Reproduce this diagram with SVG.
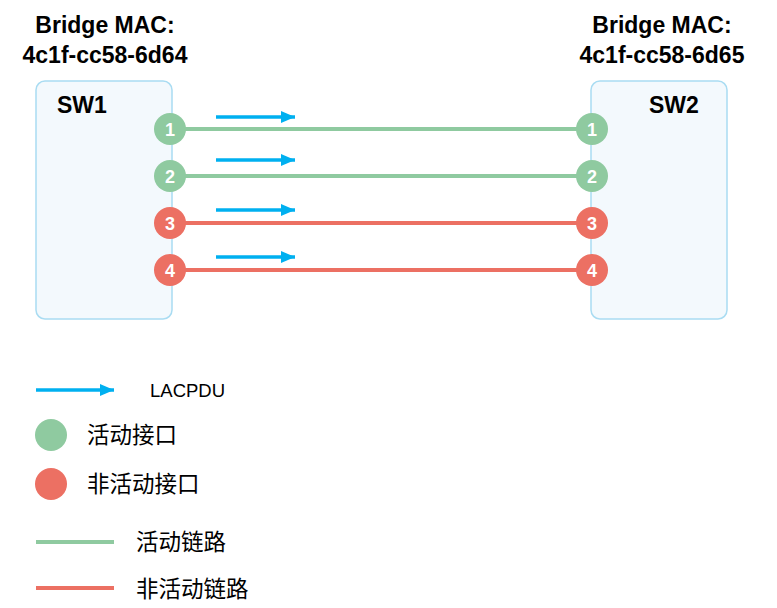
<svg xmlns="http://www.w3.org/2000/svg" width="777" height="608" viewBox="0 0 777 608">
<defs>
<style>
.title{font-family:"Liberation Sans",Arial,sans-serif;font-weight:bold;font-size:23px;fill:#000;text-anchor:middle}
.sw{font-family:"Liberation Sans",Arial,sans-serif;font-weight:bold;font-size:23px;fill:#000}
.box{fill:#f3f9fd;stroke:#a9dcf2;stroke-width:1.5}
.pg{fill:#8fcaa0}
.pr{fill:#ec7063}
.num{font-family:"Liberation Sans",Arial,sans-serif;font-weight:bold;font-size:18px;fill:#fff;text-anchor:middle}
.lg{stroke:#8fcaa0;stroke-width:4;fill:none}
.lr{stroke:#ec7063;stroke-width:4;fill:none}
.arr{stroke:#00b0f0;stroke-width:3.5;fill:none}
.leg{font-family:"Liberation Sans","Noto Sans CJK SC",sans-serif;font-size:22.5px;fill:#000}
.legs{font-family:"Liberation Sans",Arial,sans-serif;font-size:18.5px;fill:#000}
</style>
<marker id="ah" viewBox="0 0 14 12" refX="14" refY="6" markerWidth="14" markerHeight="12" markerUnits="userSpaceOnUse" orient="auto">
<path d="M0,0 L14,6 L0,12 Z" fill="#00b0f0"/>
</marker>
</defs>
<rect width="777" height="608" fill="#fff"/>
<g id="sw1">
<text class="title" x="105" y="33">Bridge MAC:</text>
<text class="title" x="105" y="63">4c1f-cc58-6d64</text>
<rect class="box" x="36" y="81" width="136" height="238" rx="9"/>
<text class="sw" x="57" y="113">SW1</text>
</g>
<g id="sw2">
<text class="title" x="662" y="33">Bridge MAC:</text>
<text class="title" x="662" y="63">4c1f-cc58-6d65</text>
<rect class="box" x="591" y="81" width="136" height="238" rx="9"/>
<text class="sw" x="649" y="113">SW2</text>
</g>
<g id="connectors">
<line class="lg" x1="170" y1="129" x2="592" y2="129"/>
<line class="lg" x1="170" y1="176" x2="592" y2="176"/>
<line class="lr" x1="170" y1="223" x2="592" y2="223"/>
<line class="lr" x1="170" y1="270" x2="592" y2="270"/>
<line class="arr" x1="216" y1="117" x2="295" y2="117" marker-end="url(#ah)"/>
<line class="arr" x1="216" y1="160" x2="295" y2="160" marker-end="url(#ah)"/>
<line class="arr" x1="216" y1="210" x2="295" y2="210" marker-end="url(#ah)"/>
<line class="arr" x1="216" y1="257" x2="295" y2="257" marker-end="url(#ah)"/>
</g>
<g id="sw1-ports">
<circle class="pg" cx="170" cy="129" r="16"/><text class="num" x="170" y="135.5">1</text>
<circle class="pg" cx="170" cy="176" r="16"/><text class="num" x="170" y="182.5">2</text>
<circle class="pr" cx="170" cy="223" r="16"/><text class="num" x="170" y="229.5">3</text>
<circle class="pr" cx="170" cy="270" r="16"/><text class="num" x="170" y="276.5">4</text>
</g>
<g id="sw2-ports">
<circle class="pg" cx="592" cy="129" r="16"/><text class="num" x="592" y="135.5">1</text>
<circle class="pg" cx="592" cy="176" r="16"/><text class="num" x="592" y="182.5">2</text>
<circle class="pr" cx="592" cy="223" r="16"/><text class="num" x="592" y="229.5">3</text>
<circle class="pr" cx="592" cy="270" r="16"/><text class="num" x="592" y="276.5">4</text>
</g>
<g id="legend">
<line class="arr" x1="36" y1="390" x2="114" y2="390" marker-end="url(#ah)"/>
<text class="legs" x="150" y="397">LACPDU</text>
<circle class="pg" cx="51" cy="435" r="16"/>
<text class="leg" x="87" y="443">活动接口</text>
<circle class="pr" cx="51" cy="484" r="16"/>
<text class="leg" x="87" y="492">非活动接口</text>
<line class="lg" x1="36" y1="542" x2="114" y2="542"/>
<text class="leg" x="136" y="550">活动链路</text>
<line class="lr" x1="36" y1="588" x2="114" y2="588"/>
<text class="leg" x="136" y="597">非活动链路</text>
</g>
</svg>
